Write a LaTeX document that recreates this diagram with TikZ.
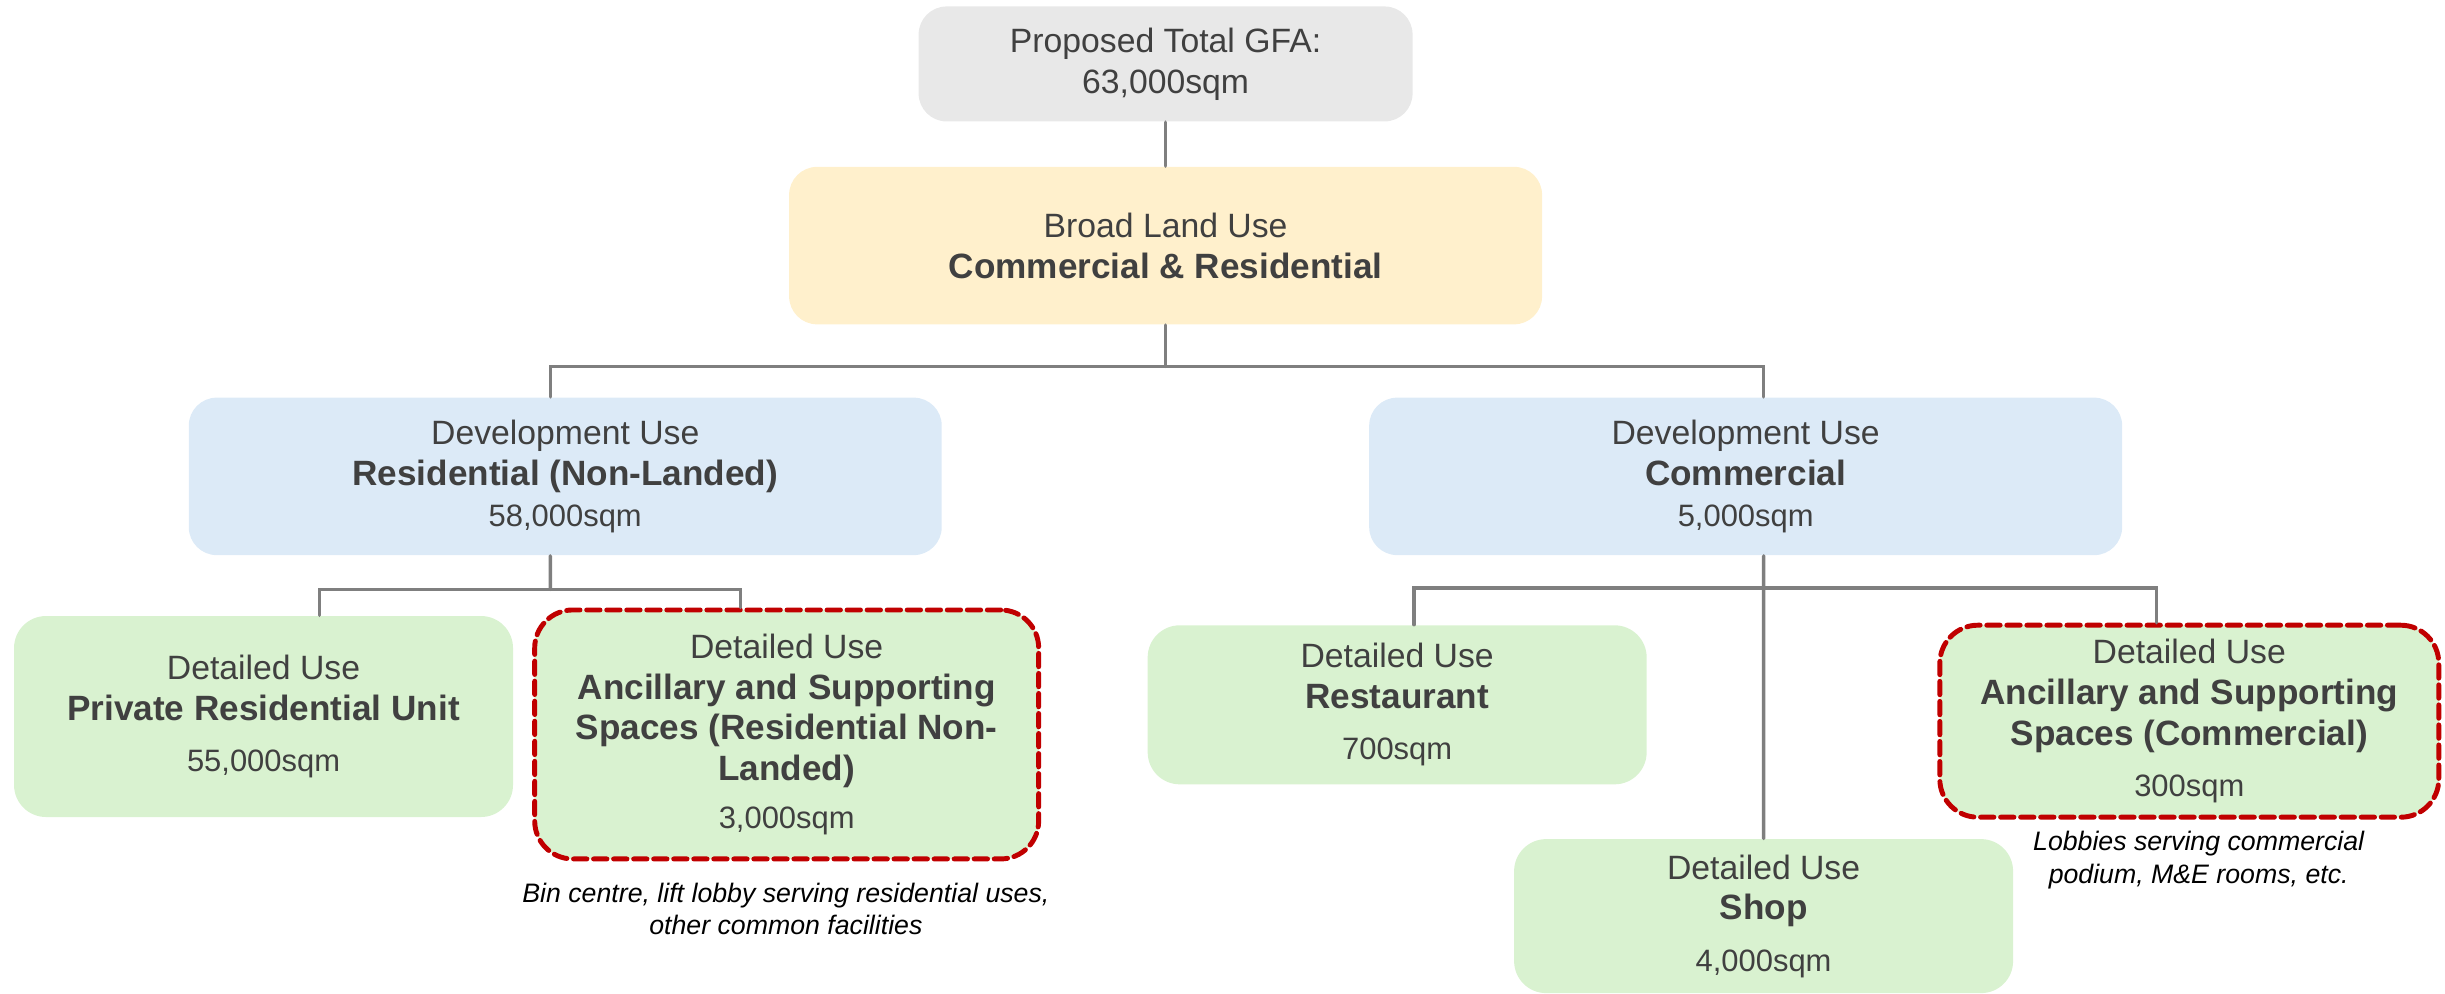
\documentclass[tikz,border=0pt]{standalone}
\usepackage{fontspec}
\setmainfont{Liberation Sans}
\usepackage{tikz}
\definecolor{TextGray}{HTML}{404040}
\definecolor{LinkGray}{HTML}{7F7F7F}
\definecolor{GfaGray}{HTML}{E8E8E8}
\definecolor{LandYellow}{HTML}{FFF0CC}
\definecolor{DevBlue}{HTML}{DCEAF7}
\definecolor{UseGreen}{HTML}{D9F2D0}
\definecolor{AncRed}{HTML}{C00000}
\newcommand{\sqmtext}[1]{{\fontsize{8.8}{10}\selectfont #1}}
\newcommand{\usename}[1]{{\fontsize{10}{11.6}\selectfont\bfseries #1}}

\begin{document}
\begin{tikzpicture}[x=0.015593cm, y=-0.015593cm, line cap=round,
  box/.style={rounded corners=0.28cm, align=center, inner sep=0pt, text=TextGray,
    font=\fontsize{9.6}{11.6}\selectfont},
  gfabox/.style={box, fill=GfaGray, minimum width=4.94cm, minimum height=1.15cm},
  landbox/.style={box, fill=LandYellow, minimum width=7.53cm, minimum height=1.575cm},
  devbox/.style={box, fill=DevBlue, minimum width=7.53cm, minimum height=1.575cm},
  usebox/.style={box, fill=UseGreen, minimum width=4.99cm, rounded corners=0.32cm},
  ancil/.style={draw=AncRed, line width=1.4pt, dash pattern=on 3.8pt off 1.9pt, rounded corners=0.38cm},
  note/.style={align=center, inner sep=0pt, text=black, font=\fontsize{7.6}{9.2}\selectfont\itshape},
  link/.style={draw=LinkGray, line width=1pt}]
  \useasboundingbox (0,0) rectangle (1568,637);

  \node[gfabox] (gfa) at (747.5,41) {Proposed Total GFA:\\63,000sqm};
  \node[landbox] (land) at (747.5,157.5) {Broad Land Use\\\usename{Commercial \& Residential}};

  \node[devbox] (resdev) at (362.5,305.5) {Development Use\\\usename{Residential (Non-Landed)}\\\sqmtext{58,000sqm}};
  \node[devbox] (comdev) at (1119.5,305.5) {Development Use\\\usename{Commercial}\\\sqmtext{5,000sqm}};

  \node[usebox, minimum height=2.01cm] (unit) at (169,459.5) {Detailed Use\\\usename{Private Residential Unit}\\[3pt]\sqmtext{55,000sqm}};
  \node[usebox, ancil, minimum width=5.04cm, minimum height=2.49cm] (resanc) at (504.5,471)
    {Detailed Use\\\usename{Ancillary and Supporting}\\\usename{Spaces (Residential Non-}\\\usename{Landed)}\\[2pt]\sqmtext{3,000sqm}};
  \node[note] (resnote) at (504,583) {Bin centre, lift lobby serving residential uses,\\other common facilities};

  \node[usebox, minimum height=1.59cm] (rest) at (896,452) {Detailed Use\\\usename{Restaurant}\\[3pt]\sqmtext{700sqm}};
  \node[usebox, minimum height=1.54cm] (shop) at (1131,587.5) {Detailed Use\\\usename{Shop}\\[3pt]\sqmtext{4,000sqm}};
  \node[usebox, ancil, minimum height=1.92cm] (comanc) at (1404,462.5)
    {Detailed Use\\\usename{Ancillary and Supporting}\\\usename{Spaces (Commercial)}\\[3pt]\sqmtext{300sqm}};
  \node[note] (comnote) at (1410,551.5) {Lobbies serving commercial\\podium, M\&E rooms, etc.};

  \coordinate (landbus) at (747.5,235);
  \coordinate (resbus) at (353,378);
  \coordinate (combus) at (1131,377);

  \draw[link] (gfa.south) -- (land.north);
  \draw[link] (land.south) -- (landbus);
  \draw[link] ([xshift=-0.15cm]resdev.north) |- (landbus) -| ([xshift=0.18cm]comdev.north);

  \draw[link] ([xshift=-0.15cm]resdev.south) -- (resbus);
  \draw[link] ([xshift=0.56cm]unit.north) |- (resbus) -| ([xshift=-0.46cm]resanc.north);

  \draw[link] ([xshift=0.18cm]comdev.south) -- (shop.north);
  \draw[link] ([xshift=0.17cm]rest.north) |- (combus) -| ([xshift=-0.33cm]comanc.north);
\end{tikzpicture}
\end{document}
